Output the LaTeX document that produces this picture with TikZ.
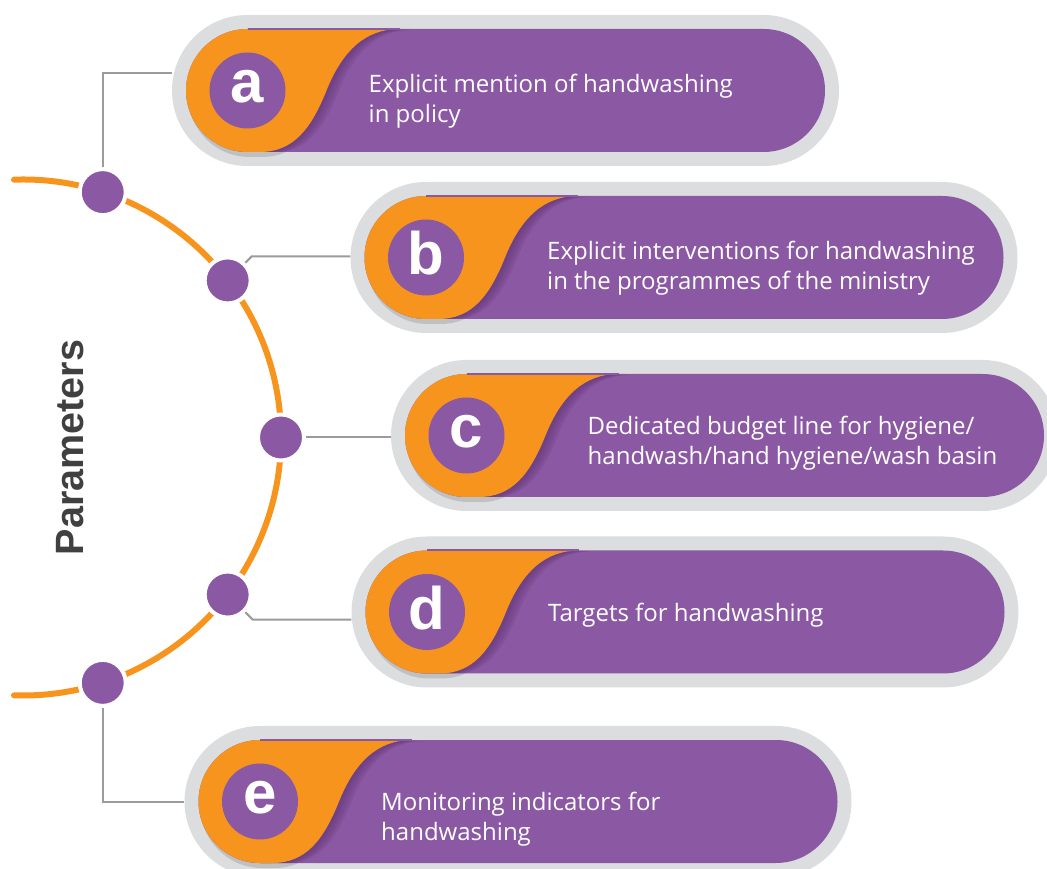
\documentclass[tikz,border=0pt]{standalone}
\usepackage{fontspec}
\setmainfont{Open Sans}
\newfontfamily\headfont{Liberation Sans}
\usetikzlibrary{shapes.misc, calc}

\definecolor{purp}{RGB}{139,88,163}
\definecolor{orng}{RGB}{247,148,30}
\definecolor{ringgrey}{RGB}{220,221,222}
\definecolor{linegrey}{RGB}{155,155,155}
\definecolor{shadepurp}{RGB}{85,45,105}
\definecolor{titlegrey}{RGB}{64,64,64}

% outline of one pill and of its orange end, around the letter centre
\newcommand{\bodypath}{(0,61.5) -- (516,61.5) arc[start angle=90, end angle=-90, radius=61.5pt] -- (0,-61.5) arc[start angle=270, end angle=90, radius=61.5pt] -- cycle}
\newcommand{\orangepath}{(152,61.5) .. controls (118,61.5) and (95,40) .. (79,0) .. controls (63,-40) and (45,-61.5) .. (12,-61.5) -- (0,-61.5) arc[start angle=270, end angle=90, radius=61.5pt] -- cycle}

% name, x, y, letter, text, text offset
\newcommand{\drawpill}[6]{%
  \begin{scope}[shift={(#2,#3)}]
    \node[ring] (pill#1) at (258,0) {};
    \fill[black, opacity=.13, shift={(2,-5)}] \orangepath;
    \fill[purp] \bodypath;
    \begin{scope}
      \clip \bodypath;
      \foreach \d in {3,6,9,12} \fill[shadepurp, opacity=.15, shift={(\d,-1)}] \orangepath;
    \end{scope}
    \fill[orng] \orangepath;
    \draw[purp, line width=2pt] (0,61.5) -- (152,61.5);
    \node[letcirc] (let#1) at (0,0) {};
    \node[letter] (chr#1) at (0,4) {#4};
    \node[desc] (txt#1) at (121,#6) {#5};
  \end{scope}}

\begin{document}
\begin{tikzpicture}[x=1pt, y=1pt]
        \tikzstyle{ring}=[rounded rectangle, fill=ringgrey, minimum width=667pt, minimum height=151pt, inner sep=0pt];
        \tikzstyle{letcirc}=[circle, fill=purp, minimum size=76pt, inner sep=0pt];
        \tikzstyle{letter}=[text=white, inner sep=0pt, font=\headfont\bfseries\fontsize{60}{60}\selectfont];
        \tikzstyle{desc}=[anchor=west, text=white, align=left, inner sep=0pt, font=\fontsize{24}{30}\selectfont];
        \tikzstyle{dot}=[circle, fill=purp, draw=white, line width=4pt, minimum size=46pt, inner sep=0pt];
        \tikzstyle{conn}=[draw=linegrey, line width=2pt];
        \tikzstyle{arcline}=[draw=orng, line width=6pt, line cap=round];
        \useasboundingbox (0,0) rectangle (1047,868);
        \clip (0,0) rectangle (1047,868);

        \drawpill{a}{247.5}{777.5}{a}{Explicit mention of handwashing\\in policy}{-11}
        \drawpill{b}{426}{610.5}{b}{Explicit interventions for handwashing\\in the programmes of the ministry}{-11}
        \drawpill{c}{466.5}{432.5}{c}{Dedicated budget line for hygiene/\\handwash/hand hygiene/wash basin}{-8}
        \drawpill{d}{427}{256}{d}{Targets for handwashing}{-3}
        \drawpill{e}{260}{66.5}{e}{Monitoring indicators for\\handwashing}{-18}

        \coordinate (hub) at (23,430.5);
        \draw[arcline] (hub) ++(92:258) arc[start angle=92, end angle=-92, radius=258pt];
        \node[dot] (dota) at ($(hub)+(72:258)$) {};
        \node[dot] (dotb) at ($(hub)+(37.5:258)$) {};
        \node[dot] (dotc) at ($(hub)+(0:258)$) {};
        \node[dot] (dotd) at ($(hub)+(-37.5:258)$) {};
        \node[dot] (dote) at ($(hub)+(-72:258)$) {};

        \draw[conn] (dota.north) |- ($(pilla.west)+(0,17.5)$);
        \draw[conn] (dotb.45) -- ($(dotb.center)+(24,24)$) coordinate (kb) -- (kb -| pillb.west);
        \draw[conn] (dotc.east) -- (dotc -| pillc.west);
        \draw[conn] (dotd.-45) -- ($(dotd.center)+(25,-25)$) coordinate (kd) -- (kd -| pilld.west);
        \draw[conn] (dote.south) |- (pille.west);

        \node[rotate=90, text=titlegrey, font=\headfont\bfseries\fontsize{39.5}{40}\selectfont] (title) at (70,420.5) {Parameters};
      \end{tikzpicture}
\end{document}
